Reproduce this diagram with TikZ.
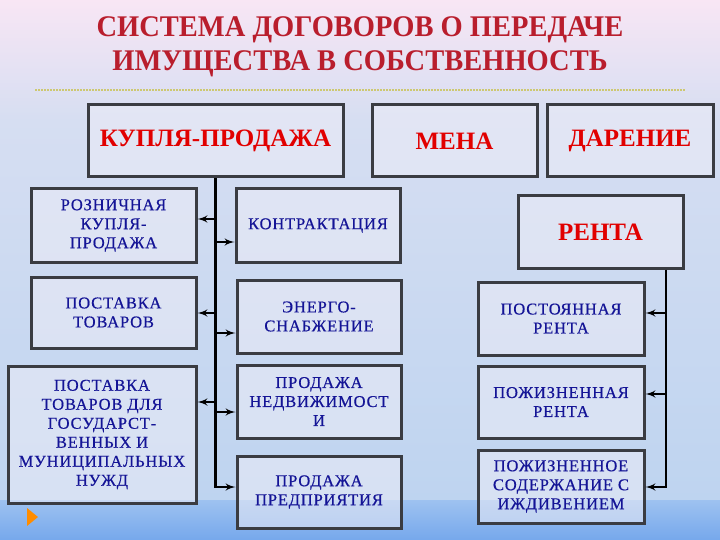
\documentclass[tikz,border=0pt]{standalone}
\usepackage{fontspec}
\setmainfont{Liberation Serif}
\newfontfamily\itemfont[LetterSpace=5, FakeBold=0.5]{Liberation Serif}
\usepackage{xcolor}
\definecolor{titlered}{RGB}{185, 30, 45}
\definecolor{labelred}{RGB}{225, 0, 0}
\definecolor{textblue}{RGB}{20, 20, 150}
\definecolor{boxgray}{RGB}{58, 60, 66}
\definecolor{boxfill}{RGB}{236, 236, 246}
\definecolor{bgpink}{RGB}{248, 230, 244}
\definecolor{bgmid}{RGB}{214, 222, 242}
\definecolor{bgblue}{RGB}{190, 212, 240}
\definecolor{bglow}{RGB}{158, 194, 240}
\definecolor{bgbottom}{RGB}{118, 168, 236}
\usepackage{tikz}
\usetikzlibrary{arrows, positioning, calc, backgrounds}

\begin{document}
\begin{tikzpicture}[x=1pt, y=-1pt,
        kbox/.style={rectangle, draw=boxgray, line width=3pt, fill=boxfill, fill opacity=0.55, text opacity=1, align=center, inner sep=2pt},
        headbox/.style={kbox, text=labelred, font=\fontsize{25}{28}\selectfont\bfseries},
        itembox/.style={kbox, text=textblue, font=\itemfont\fontsize{16.5}{19}\selectfont},
        arr/.style={draw=black, -latex', line width=2.4pt}]

        \useasboundingbox (0,0) rectangle (720,540);
        % background of the slide
        \shade [top color=bgpink, bottom color=bgmid] (0,0) rectangle (720,120);
        \shade [top color=bgmid, bottom color=bgblue] (0,120) rectangle (720,500);
        \shade [top color=bglow, bottom color=bgbottom] (0,500) rectangle (720,540);
        \fill [orange!90!yellow] (27,508) -- (38,517) -- (27,526) -- cycle;

        \node [text=titlered, font=\fontsize{30}{34}\selectfont\bfseries, align=center, xscale=0.95] (title) at (360,47) {СИСТЕМА ДОГОВОРОВ О ПЕРЕДАЧЕ\\ИМУЩЕСТВА В СОБСТВЕННОСТЬ};
        \draw [olive!45, line width=1.2pt, dash pattern=on 2pt off 1pt] (35,90) -- (685,90);

        \node [headbox, minimum width=255, minimum height=72] (kp) at (215.5,141) {КУПЛЯ-ПРОДАЖА};
        \node [headbox, minimum width=165, minimum height=72] (mena) at (454.5,141) {МЕНА};
        \node [headbox, minimum width=166, minimum height=72] (dar) at (630,141) {ДАРЕНИЕ};
        \node [headbox, minimum width=165, minimum height=72] (renta) at (600.5,232) {РЕНТА};

        \node [itembox, minimum width=165, minimum height=73] (rozn) at (113.5,225.5) {РОЗНИЧНАЯ\\КУПЛЯ-\\ПРОДАЖА};
        \node [itembox, minimum width=165, minimum height=71] (tovar) at (113.5,312.5) {ПОСТАВКА\\ТОВАРОВ};
        \node [itembox, minimum width=188, minimum height=137] (nuzhd) at (102,434.5) {ПОСТАВКА\\ТОВАРОВ ДЛЯ\\ГОСУДАРСТ-\\ВЕННЫХ И\\МУНИЦИПАЛЬНЫХ\\НУЖД};

        \node [itembox, minimum width=164, minimum height=73] (kontr) at (318,225.5) {КОНТРАКТАЦИЯ};
        \node [itembox, minimum width=164, minimum height=73] (energo) at (319,316.5) {ЭНЕРГО-\\СНАБЖЕНИЕ};
        \node [itembox, minimum width=164, minimum height=73] (nedv) at (319,401.5) {ПРОДАЖА\\НЕДВИЖИМОСТ\\И};
        \node [itembox, minimum width=164, minimum height=72] (predpr) at (319,492) {ПРОДАЖА\\ПРЕДПРИЯТИЯ};

        \node [itembox, minimum width=166, minimum height=73] (postr) at (561,318.5) {ПОСТОЯННАЯ\\РЕНТА};
        \node [itembox, minimum width=166, minimum height=72] (pozhr) at (561,402) {ПОЖИЗНЕННАЯ\\РЕНТА};
        \node [itembox, minimum width=166, minimum height=73] (soderzh) at (561,486.5) {ПОЖИЗНЕННОЕ\\СОДЕРЖАНИЕ С\\ИЖДИВЕНИЕМ};

        % branch points on the two trunks
        \coordinate (k1) at (215,219);
        \coordinate (k2) at (215,242);
        \coordinate (k3) at (215,313);
        \coordinate (k4) at (215,333);
        \coordinate (k5) at (215,402);
        \coordinate (k6) at (215,412);
        \coordinate (k7) at (215,487);
        \coordinate (r1) at (666,313);
        \coordinate (r2) at (666,394);
        \coordinate (r3) at (666,487);

        \path [arr] (kp.south) -- (kp.south |- k7) -- (k7 -| predpr.west);
        \path [arr] (k1) -- (k1 -| rozn.east);
        \path [arr] (k2) -- (k2 -| kontr.west);
        \path [arr] (k3) -- (k3 -| tovar.east);
        \path [arr] (k4) -- (k4 -| energo.west);
        \path [arr] (k5) -- (k5 -| nuzhd.east);
        \path [arr] (k6) -- (k6 -| nedv.west);

        \path [arr] (renta.south -| r1) -- (r3) -- (r3 -| soderzh.east);
        \path [arr] (r1) -- (r1 -| postr.east);
        \path [arr] (r2) -- (r2 -| pozhr.east);
    \end{tikzpicture}
\end{document}
